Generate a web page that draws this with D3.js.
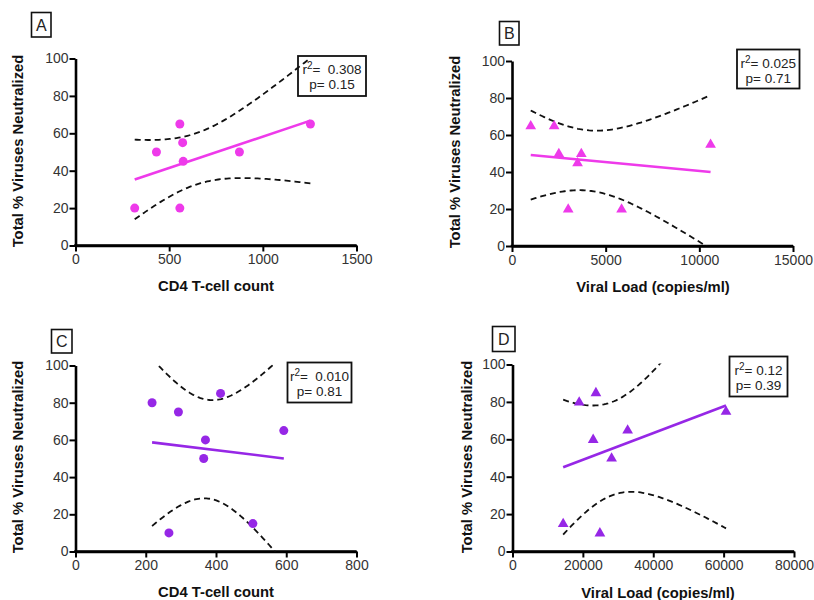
<!DOCTYPE html>
<html>
<head>
<meta charset="utf-8">
<script src="https://cdn.jsdelivr.net/npm/d3@7"></script>
<style>
  html, body { margin: 0; padding: 0; background: #fff; }
  svg { display: block; font-family: Arial, "Liberation Sans", Helvetica, sans-serif; }
  .ttl { font-weight: bold; font-size: 14.8px; fill: #111; }
  .stat { font-size: 13.5px; fill: #222; white-space: pre; }
</style>
</head>
<body>
<svg id="chart" width="814" height="600"></svg>
<script>
// Neutralization vs. CD4 count / viral load, four cohorts
const cd4A  = [316, 432, 557, 572, 575, 557, 875, 1254];
const neutA = [20, 50, 65, 55, 45, 20, 50, 65];

const vlB   = [1000, 2250, 2500, 3000, 3500, 3700, 5850, 10600];
const neutB = [65, 65, 50, 20, 45, 50, 20, 55];

const cd4C  = [218, 266, 293, 365, 370, 413, 505, 593];
const neutC = [80, 10, 75, 50, 60, 85, 15, 65];

const vlD   = [14400, 18950, 22930, 23700, 24840, 28160, 32720, 60680];
const neutD = [15, 80, 60, 85, 10, 50, 65, 75];

const yTicks     = [0, 20, 40, 60, 80, 100];
const cd4TicksA  = [0, 500, 1000, 1500];
const vlTicksB   = [0, 5000, 10000, 15000];
const cd4TicksC  = [0, 200, 400, 600, 800];
const vlTicksD   = [0, 20000, 40000, 60000, 80000];

const panelLetters = ["A", "B", "C", "D"];
const r2Labels = ["=  0.308", "= 0.025", "=  0.010", "= 0.12"];
const pLabels  = ["p= 0.15", "p= 0.71", "p= 0.81", "p= 0.39"];

const xTitles = ["CD4 T-cell count", "Viral Load (copies/ml)", "CD4 T-cell count", "Viral Load (copies/ml)"];
const yTitle  = "Total % Viruses Neutralized";

// two-sided 95% t critical values, indexed by degrees of freedom
const tCrit95 = [NaN, 12.706, 4.303, 3.182, 2.776, 2.571, 2.447, 2.365, 2.306, 2.262, 2.228];

const magenta = "#ee3aea";
const purple  = "#9627e6";

const panels = [
  { x: cd4A, y: neutA, ticks: cd4TicksA, color: magenta, marker: "circle",
    box: { l: 75.5, r: 356.5, t: 58.5, b: 245.5 },
    letter: { x: 31.5, y: 12.5, w: 19.5, h: 24.5 },
    stat: { x: 298, y: 56, w: 68, h: 40 },
    xt: { x: 216, y: 291 }, yt: { x: 23, y: 151 } },
  { x: vlB, y: neutB, ticks: vlTicksB, color: magenta, marker: "triangle",
    box: { l: 512, r: 793, t: 61, b: 246 },
    letter: { x: 499.5, y: 21.5, w: 19.5, h: 23.5 },
    stat: { x: 737, y: 49.5, w: 62.5, h: 39 },
    xt: { x: 653, y: 292 }, yt: { x: 460, y: 152 } },
  { x: cd4C, y: neutC, ticks: cd4TicksC, color: purple, marker: "circle",
    box: { l: 75.5, r: 356.5, t: 365.5, b: 551.5 },
    letter: { x: 51.5, y: 329.5, w: 20.5, h: 23.5 },
    stat: { x: 287.5, y: 362.5, w: 64, h: 40 },
    xt: { x: 216, y: 597 }, yt: { x: 23, y: 457 } },
  { x: vlD, y: neutD, ticks: vlTicksD, color: purple, marker: "triangle",
    box: { l: 512.5, r: 794, t: 364.5, b: 551.5 },
    letter: { x: 492.5, y: 326.5, w: 22.5, h: 25 },
    stat: { x: 729.5, y: 356.5, w: 58, h: 40 },
    xt: { x: 658, y: 598 }, yt: { x: 472, y: 457 } }
];

// least-squares fit with 95% confidence band of the fitted line
function linearFit(xs, ys) {
  const n = xs.length;
  const mx = d3.mean(xs), my = d3.mean(ys);
  let sxx = 0, sxy = 0, syy = 0;
  for (let i = 0; i < n; i++) {
    sxx += (xs[i] - mx) ** 2;
    sxy += (xs[i] - mx) * (ys[i] - my);
    syy += (ys[i] - my) ** 2;
  }
  const slope = sxy / sxx;
  const intercept = my - slope * mx;
  const s = Math.sqrt((syy - slope * sxy) / (n - 2));
  const t = tCrit95[n - 2];
  const predict = x => intercept + slope * x;
  const half = x => t * s * Math.sqrt(1 / n + (x - mx) ** 2 / sxx);
  return { predict, half };
}

const svg = d3.select("#chart");

panels.forEach((p, i) => {
  const g = svg.append("g");
  const xs = d3.scaleLinear().domain(d3.extent(p.ticks)).range([p.box.l, p.box.r]);
  const ys = d3.scaleLinear().domain([0, 100]).range([p.box.b, p.box.t]);

  const clipId = "clip" + i;
  svg.append("clipPath").attr("id", clipId).append("rect")
    .attr("x", p.box.l).attr("y", ys(100) - 1)
    .attr("width", p.box.r - p.box.l).attr("height", ys(0) - ys(100) + 1);

  // axes
  const yAxis = d3.axisLeft(ys).tickValues(yTicks).tickSize(6).tickPadding(1).tickSizeOuter(0);
  const xAxis = d3.axisBottom(xs).tickValues(p.ticks).tickSize(6).tickPadding(3).tickSizeOuter(0)
    .tickFormat(d3.format("d"));
  const ya = g.append("g").attr("transform", `translate(${p.box.l},0)`).call(yAxis);
  const xa = g.append("g").attr("transform", `translate(0,${p.box.b})`).call(xAxis);
  [ya, xa].forEach(a => {
    a.select(".domain").attr("stroke", "#000").attr("stroke-width", 2.6);
    a.selectAll(".tick line").attr("stroke", "#000").attr("stroke-width", 2);
    a.selectAll(".tick text").attr("fill", "#333")
      .style("font-size", "14px").style("font-family", "Arial, 'Liberation Sans', sans-serif");
  });
  // extend the x axis so both axis lines meet at the corner
  g.append("line")
    .attr("x1", p.box.l - 1.3).attr("x2", p.box.r)
    .attr("y1", p.box.b).attr("y2", p.box.b)
    .attr("stroke", "#000").attr("stroke-width", 2.6);

  // fit and band
  const fit = linearFit(p.x, p.y);
  const [xmin, xmax] = d3.extent(p.x);
  const samples = d3.range(0, 81).map(k => xmin + (xmax - xmin) * k / 80);
  const plot = g.append("g").attr("clip-path", `url(#${clipId})`);

  const band = d3.line().x(d => xs(d[0])).y(d => ys(d[1])).curve(d3.curveLinear);
  [1, -1].forEach(sign => {
    plot.append("path")
      .attr("d", band(samples.map(x => [x, fit.predict(x) + sign * fit.half(x)])))
      .attr("fill", "none").attr("stroke", "#111").attr("stroke-width", 1.8)
      .attr("stroke-dasharray", "6,4");
  });

  plot.append("line")
    .attr("x1", xs(xmin)).attr("y1", ys(fit.predict(xmin)))
    .attr("x2", xs(xmax)).attr("y2", ys(fit.predict(xmax)))
    .attr("stroke", p.color).attr("stroke-width", 2.6);

  // points
  const pts = p.x.map((x, k) => [x, p.y[k]]);
  if (p.marker === "circle") {
    g.selectAll(null).data(pts).join("circle")
      .attr("cx", d => xs(d[0])).attr("cy", d => ys(d[1])).attr("r", 4.5)
      .attr("fill", p.color);
  } else {
    const tri = d3.symbol().type(d3.symbolTriangle).size(50);
    g.selectAll(null).data(pts).join("path")
      .attr("d", tri)
      .attr("transform", d => `translate(${xs(d[0])},${ys(d[1]) + 0.5})`)
      .attr("fill", p.color);
  }

  // panel letter
  g.append("rect")
    .attr("x", p.letter.x).attr("y", p.letter.y)
    .attr("width", p.letter.w).attr("height", p.letter.h)
    .attr("fill", "none").attr("stroke", "#111").attr("stroke-width", 1.6);
  g.append("text")
    .attr("x", p.letter.x + p.letter.w / 2).attr("y", p.letter.y + p.letter.h / 2 + 6)
    .attr("text-anchor", "middle").style("font-size", "16px").attr("fill", "#222")
    .text(panelLetters[i]);

  // statistics box
  g.append("rect")
    .attr("x", p.stat.x).attr("y", p.stat.y)
    .attr("width", p.stat.w).attr("height", p.stat.h)
    .attr("fill", "none").attr("stroke", "#111").attr("stroke-width", 1.8);
  const cx = p.stat.x + p.stat.w / 2;
  const t1 = g.append("text").attr("class", "stat")
    .attr("x", cx).attr("y", p.stat.y + 18).attr("text-anchor", "middle");
  t1.append("tspan").text("r");
  t1.append("tspan").attr("dy", -5).style("font-size", "10px").text("2");
  t1.append("tspan").attr("dy", 5).text(r2Labels[i]);
  g.append("text").attr("class", "stat")
    .attr("x", cx).attr("y", p.stat.y + 33).attr("text-anchor", "middle")
    .text(pLabels[i]);

  // axis titles
  g.append("text").attr("class", "ttl")
    .attr("x", p.xt.x).attr("y", p.xt.y).attr("text-anchor", "middle")
    .text(xTitles[i]);
  g.append("text").attr("class", "ttl")
    .attr("transform", `translate(${p.yt.x},${p.yt.y}) rotate(-90)`)
    .attr("text-anchor", "middle")
    .text(yTitle);
});
</script>
</body>
</html>
